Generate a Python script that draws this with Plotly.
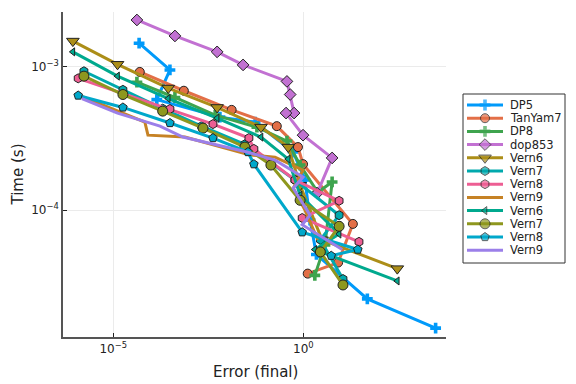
import plotly.graph_objects as go

# ---- data (error, time) ----
names = ["DP5", "TanYam7", "DP8", "dop853", "Vern6", "Vern7", "Vern8", "Vern9",
         "Vern6", "Vern7", "Vern8", "Vern9"]

dp5_err = [4.8e-5, 3.1e-4, 1.4e-4, 6.4e-3, 5.4e-2, 0.54, 1.1, 1.5, 2.2, 48, 3000]
dp5_time = [1.46e-3, 9.5e-4, 5.9e-4, 4.45e-4, 4.1e-4, 2.54e-4, 1.62e-4, 8.5e-5, 4.9e-5, 2.4e-5, 1.5e-5]

tanyam7_err = [5.0e-5, 7.2e-4, 1.3e-2, 0.20, 0.72, 0.98, 20, 8.2, 1.3]
tanyam7_time = [9.2e-4, 6.8e-4, 5.0e-4, 3.85e-4, 2.75e-4, 2.09e-4, 8.0e-5, 4.3e-5, 3.6e-5]

dp8_err = [4.2e-5, 4.2e-4, 4.8e-3, 6.0e-2, 0.37, 0.82, 2.4, 5.7, 3.7, 2.0]
dp8_time = [7.8e-4, 6.1e-4, 4.6e-4, 3.79e-4, 3.03e-4, 2.06e-4, 1.33e-4, 1.57e-4, 5.7e-5, 3.5e-5]

dop853_err = [4.2e-5, 4.2e-4, 5.4e-3, 2.6e-2, 0.37, 0.45, 0.57, 0.35, 0.98, 5.7, 2.3]
dop853_time = [2.12e-3, 1.64e-3, 1.27e-3, 1.03e-3, 7.9e-4, 6.4e-4, 4.75e-4, 4.75e-4, 3.33e-4, 2.31e-4, 1.31e-4]

vern6a_err = [8.7e-7, 1.3e-5, 2.8e-4, 5.4e-3, 7.7e-2, 0.40, 0.82, 3.1, 295]
vern6a_time = [1.51e-3, 1.04e-3, 7.1e-4, 5.2e-4, 3.79e-4, 2.75e-4, 1.49e-4, 6.2e-5, 3.9e-5]

vern7a_err = [1.7e-6, 1.8e-5, 2.0e-4, 2.1e-3, 2.9e-2, 0.60, 8.7, 2.8, 11]
vern7a_time = [9.3e-4, 6.9e-4, 5.1e-4, 3.85e-4, 2.88e-4, 1.62e-4, 9.2e-5, 6.2e-5, 3.3e-5]

vern8a_err = [1.2e-6, 3.1e-4, 4.2e-3, 3.7e-2, 5.0e-2, 0.60, 8.7, 0.93, 29]
vern8a_time = [8.3e-4, 5.07e-4, 3.98e-4, 3.18e-4, 2.67e-4, 1.62e-4, 1.16e-4, 8.8e-5, 6.0e-5]

vern9a_err = [1.3e-6, 6.8e-5, 8.2e-5, 7.7e-4, 4.0e-2, 0.18, 0.98, 0.54, 1.1, 2.4]
vern9a_time = [6.3e-4, 4.11e-4, 3.33e-4, 3.23e-4, 2.42e-4, 2.34e-4, 1.90e-4, 1.42e-4, 1.0e-4, 6.2e-5]

vern6b_err = [8.7e-7, 1.3e-5, 2.8e-4, 5.4e-3, 7.7e-2, 0.40, 0.82, 8.7, 2.0, 295]
vern6b_time = [1.27e-3, 8.6e-4, 6.0e-4, 4.38e-4, 3.23e-4, 2.27e-4, 1.27e-4, 6.8e-5, 5.3e-5, 3.2e-5]

vern7b_err = [1.7e-6, 1.8e-5, 2.0e-4, 2.3e-3, 2.9e-2, 0.14, 0.82, 8.7, 2.8, 11]
vern7b_time = [8.6e-4, 6.4e-4, 4.9e-4, 3.73e-4, 2.75e-4, 2.06e-4, 1.17e-4, 7.7e-5, 5.1e-5, 3.0e-5]

vern8b_err = [1.2e-6, 1.8e-5, 3.1e-4, 4.2e-3, 3.5e-2, 5.0e-2, 0.93, 27, 5.4]
vern8b_time = [6.3e-4, 5.2e-4, 4.05e-4, 3.18e-4, 2.54e-4, 2.09e-4, 7.0e-5, 5.3e-5, 4.8e-5]

vern9b_err = [1.5e-6, 1.3e-5, 1.7e-4, 6.8e-4, 3.3e-2, 0.18, 0.98, 0.54, 1.5, 0.93, 10.5]
vern9b_time = [6.0e-4, 4.75e-4, 3.85e-4, 3.23e-4, 2.54e-4, 2.23e-4, 1.70e-4, 1.42e-4, 9.2e-5, 7.9e-5, 5.3e-5]

x_tickvals = [1e-5, 1e0]
x_ticktext = ["10<sup>−5</sup>", "10<sup>0</sup>"]
y_tickvals = [1e-4, 1e-3]
y_ticktext = ["10<sup>−4</sup>", "10<sup>−3</sup>"]

series = [
    (dp5_err, dp5_time, "#009AFA", "cross", 9, 0),
    (tanyam7_err, tanyam7_time, "#E36F47", "circle", 9, 1),
    (dp8_err, dp8_time, "#3EA44E", "cross", 9, 0),
    (dop853_err, dop853_time, "#C271D2", "diamond", 9, 1),
    (vern6a_err, vern6a_time, "#AC8E18", "triangle-down", 11, 1),
    (vern7a_err, vern7a_time, "#00A9AD", "hexagon", 9, 1),
    (vern8a_err, vern8a_time, "#ED5E93", "hexagon", 9, 1),
    (vern9a_err, vern9a_time, "#C68225", None, 0, 0),
    (vern6b_err, vern6b_time, "#00A98E", "triangle-left", 7, 1),
    (vern7b_err, vern7b_time, "#8E971E", "circle", 10, 1),
    (vern8b_err, vern8b_time, "#00A8CB", "pentagon", 9, 1),
    (vern9b_err, vern9b_time, "#9B7FE9", None, 0, 0),
]

# ---- layout geometry ----
W, H = 576, 384
ML, MR, MT, MB = 63, 8, 12, 47
PW, PH = W - ML - MR, H - MT - MB
plot_right_px = 446
leg_left_px, leg_right_px, leg_top_px, leg_bot_px = 463, 565, 94, 263
row0_px, row_step = 105, 13.2

def px2paper_x(px):
    return (px - ML) / PW

def px2paper_y(py):
    return (H - MB - py) / PH

fig = go.Figure()
for name, (xe, yt, col, sym, sz, lw) in zip(names, series):
    if sym is None:
        fig.add_trace(go.Scatter(x=xe, y=yt, name=name, mode="lines",
                                 line=dict(color=col, width=3), showlegend=False))
    else:
        fig.add_trace(go.Scatter(x=xe, y=yt, name=name, mode="lines+markers",
                                 line=dict(color=col, width=3), showlegend=False,
                                 marker=dict(symbol=sym, size=sz, color=col,
                                             line=dict(color="#222222", width=lw))))

# ---- manual legend (own axis in legend box, units = pixels inside box) ----
annotations = []
for i, (name, (xe, yt, col, sym, sz, lw)) in enumerate(zip(names, series)):
    yrow = row0_px + i * row_step
    if sym is None:
        fig.add_trace(go.Scatter(x=[4, 40], y=[yrow, yrow], mode="lines",
                                 line=dict(color=col, width=3), showlegend=False,
                                 xaxis="x2", yaxis="y2", hoverinfo="skip"))
    else:
        fig.add_trace(go.Scatter(x=[4, 22, 40], y=[yrow, yrow, yrow], mode="lines+markers",
                                 line=dict(color=col, width=3), showlegend=False,
                                 marker=dict(symbol=sym, size=[0, sz, 0], color=col,
                                             line=dict(color="#222222", width=[0, lw, 0])),
                                 xaxis="x2", yaxis="y2", hoverinfo="skip"))
    annotations.append(dict(x=45, y=yrow, xref="x2", yref="y2", text=name,
                            showarrow=False, xanchor="left", yanchor="middle",
                            font=dict(size=11.5, family="DejaVu Sans", color="#222222")))

annotations.append(dict(x=px2paper_x(255), y=px2paper_y(372), xref="paper", yref="paper",
                        text="Error (final)", showarrow=False, xanchor="center", yanchor="middle",
                        font=dict(size=15, family="DejaVu Sans", color="#222222")))
annotations.append(dict(x=px2paper_x(17), y=px2paper_y(174.5), xref="paper", yref="paper",
                        text="Time (s)", showarrow=False, xanchor="center", yanchor="middle",
                        textangle=-90,
                        font=dict(size=15, family="DejaVu Sans", color="#222222")))

axis_common = dict(
    type="log", showgrid=True, gridcolor="#EBEBEB", gridwidth=1,
    showline=True, linecolor="#555555", linewidth=1.5, mirror=False,
    ticks="inside", ticklen=4, tickcolor="#222222", zeroline=False, automargin=False,
    tickfont=dict(family="DejaVu Sans", size=12, color="#222222"),
)

fig.update_layout(
    width=W, height=H,
    paper_bgcolor="white", plot_bgcolor="white",
    margin=dict(l=ML, r=MR, t=MT, b=MB, autoexpand=False),
    font=dict(family="DejaVu Sans", color="#222222"),
    xaxis=dict(axis_common, domain=[0, px2paper_x(plot_right_px)], range=[-6.32, 3.75],
               tickvals=x_tickvals, ticktext=x_ticktext),
    yaxis=dict(axis_common, range=[-4.886, -2.618], tickvals=y_tickvals, ticktext=y_ticktext),
    xaxis2=dict(domain=[px2paper_x(leg_left_px), px2paper_x(leg_right_px)],
                range=[0, leg_right_px - leg_left_px], visible=False, fixedrange=True,
                anchor="y2"),
    yaxis2=dict(domain=[0, 1], range=[H - MB, MT], visible=False, fixedrange=True,
                anchor="x2"),
    shapes=[dict(type="rect", xref="paper", yref="paper",
                 x0=px2paper_x(leg_left_px), x1=px2paper_x(leg_right_px),
                 y0=px2paper_y(leg_bot_px), y1=px2paper_y(leg_top_px),
                 line=dict(color="#333333", width=1), fillcolor="rgba(0,0,0,0)", layer="below")],
    annotations=annotations,
    showlegend=False,
)

fig.write_html("out.html", config={"displayModeBar": False},
               post_script="document.body.style.margin='0';document.body.style.padding='0';")
